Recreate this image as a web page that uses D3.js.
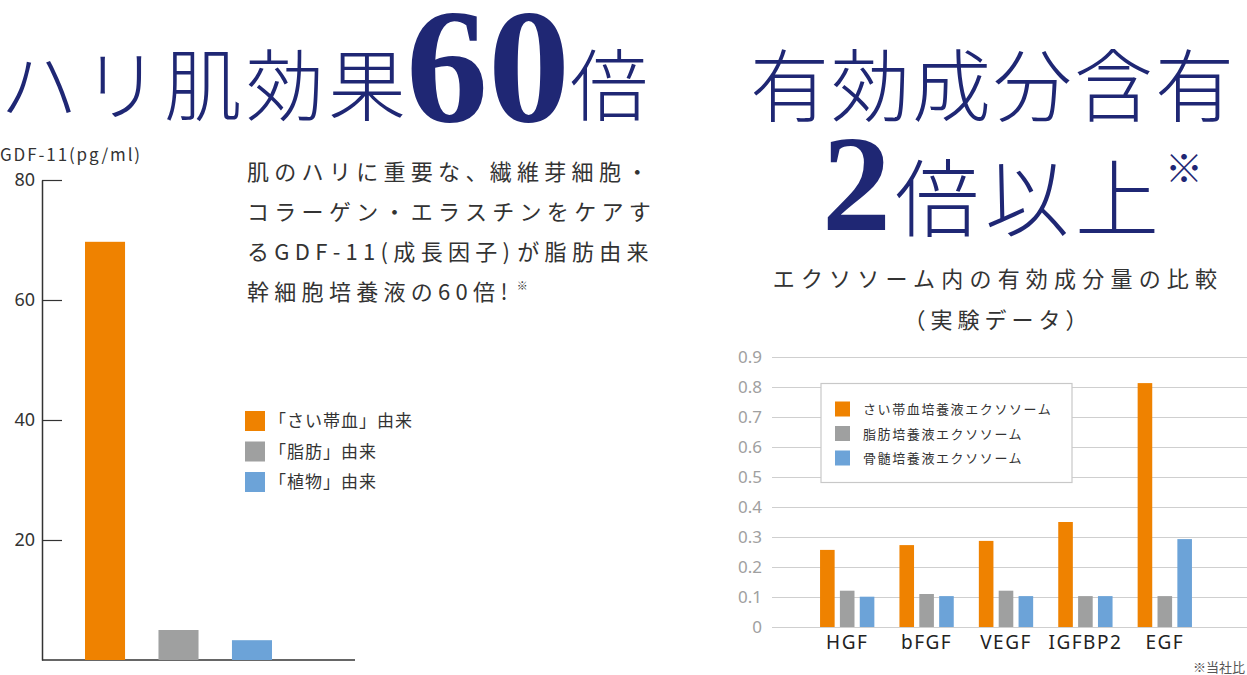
<!DOCTYPE html>
<html lang="ja">
<head>
<meta charset="utf-8">
<script src="https://cdn.jsdelivr.net/npm/d3@7"></script>
<style>
  html, body { margin: 0; padding: 0; background: #fff; }
  svg { display: block; }
  text { font-family: "Noto Sans CJK JP", "Noto Sans", sans-serif; }
</style>
</head>
<body>
<svg id="chart" width="1247" height="675" viewBox="0 0 1247 675"></svg>
<script>
// --- left chart data: GDF-11 (pg/ml) ---
const gdfSources = ["「さい帯血」由来", "「脂肪」由来", "「植物」由来"];
const gdfValues = [69.7, 5.0, 3.3];
const gdfTicks = [20, 40, 60, 80];

// --- right chart data: exosome components ---
const factors = ["HGF", "bFGF", "VEGF", "IGFBP2", "EGF"];
const exoSeries = ["さい帯血培養液エクソソーム", "脂肪培養液エクソソーム", "骨髄培養液エクソソーム"];
const cordValues = [0.257, 0.273, 0.287, 0.350, 0.813];
const adiposeValues = [0.121, 0.110, 0.121, 0.103, 0.103];
const marrowValues = [0.101, 0.103, 0.103, 0.103, 0.293];
const exoTicks = [0, 0.1, 0.2, 0.3, 0.4, 0.5, 0.6, 0.7, 0.8, 0.9];

const barColors = ["#ef8200", "#9fa0a0", "#6ca3d8"];
const navy = "#1f2774";
const ink = "#333";

const svg = d3.select("#chart");

// ---------- headings ----------
const h1 = svg.append("text").attr("x", 0).attr("y", 115).attr("fill", navy).style("font-weight", 300);
h1.append("tspan").text("ハリ肌効果").style("font-size", "78px").attr("letter-spacing", 4);
h1.append("tspan").text("60")
  .style("font-family", "'Liberation Serif', serif").style("font-weight", "bold")
  .style("font-size", "164px").attr("dx", -4).attr("dy", 6);
h1.append("tspan").text("倍").style("font-size", "78px").attr("dx", 0).attr("dy", -6);

svg.append("text").attr("x", 750).attr("y", 116).attr("fill", navy).style("font-weight", 300)
  .style("font-size", "79px").attr("letter-spacing", 2)
  .text("有効成分含有");

const h2 = svg.append("text").attr("x", 822).attr("y", 230).attr("fill", navy).style("font-weight", 300);
h2.append("tspan").text("2")
  .style("font-family", "'Liberation Serif', serif").style("font-weight", "bold")
  .style("font-size", "138px");
h2.append("tspan").text("倍以上").style("font-size", "84px").attr("dx", 4).attr("letter-spacing", 6);
h2.append("tspan").text("※").style("font-size", "38px").attr("dx", 0).attr("dy", -48);

svg.append("text").attr("x", 998).attr("y", 287).attr("text-anchor", "middle")
  .attr("fill", ink).style("font-size", "22px").attr("letter-spacing", 6.2)
  .text("エクソソーム内の有効成分量の比較");
svg.append("text").attr("x", 998).attr("y", 328).attr("text-anchor", "middle")
  .attr("fill", ink).style("font-size", "22px").attr("letter-spacing", 5)
  .text("（実験データ）");

// description block (each line is split into runs so narrow punctuation can be tucked in)
const descLines = [
  ["肌のハリに重要な、", "繊維芽細胞・"],
  ["コラーゲン・エラスチンをケアす"],
  ["るGDF-11", "(成長因子)", "が脂肪由来"],
  ["幹細胞培養液の60倍!"]
];
const descTuck = [[0, -3], [0], [0, 0, 2], [0]];
const desc = svg.append("g").attr("fill", ink);
descLines.forEach((runs, i) => {
  const t = desc.append("text").attr("x", 247).attr("y", 180 + i * 40)
    .style("font-size", "22px").attr("letter-spacing", 5.3);
  runs.forEach((r, j) => t.append("tspan").attr("dx", descTuck[i][j]).text(r));
  if (i === descLines.length - 1) {
    t.append("tspan").text("※").style("font-size", "11px").attr("dy", -10).attr("dx", 4);
  }
});

// ---------- left chart ----------
const ly = d3.scaleLinear().domain([0, 80]).range([660, 180]);
const lx = d3.scaleBand().domain(gdfSources).range([85, 272]).paddingInner(0.455);

svg.append("text").attr("x", 0).attr("y", 161).attr("fill", ink)
  .style("font-size", "17px").attr("letter-spacing", 1.9).text("GDF-11(pg/ml)");

const lAxis = svg.append("g").attr("transform", "translate(42,0)")
  .call(d3.axisLeft(ly).tickValues(gdfTicks).tickSizeInner(-20).tickSizeOuter(0).tickPadding(7));
lAxis.select(".domain").attr("stroke", ink).attr("stroke-width", 1.5);
lAxis.selectAll(".tick line").attr("stroke", ink).attr("stroke-width", 1.2);
lAxis.selectAll(".tick text").attr("fill", ink).style("font-size", "18px")
  .style("font-family", "'Noto Sans', sans-serif");

svg.append("line").attr("x1", 42).attr("x2", 355).attr("y1", ly(0)).attr("y2", ly(0))
  .attr("stroke", ink).attr("stroke-width", 1.5);

svg.append("g").selectAll("rect").data(gdfValues).join("rect")
  .attr("x", (d, i) => lx(gdfSources[i]))
  .attr("width", lx.bandwidth())
  .attr("y", d => ly(d))
  .attr("height", d => ly(0) - ly(d))
  .attr("fill", (d, i) => barColors[i]);

const lLegend = svg.append("g");
gdfSources.forEach((name, i) => {
  const g = lLegend.append("g").attr("transform", `translate(245,${411 + i * 30.5})`);
  g.append("rect").attr("width", 20).attr("height", 20).attr("fill", barColors[i]);
  g.append("text").attr("x", 24).attr("y", 16).attr("fill", ink)
    .style("font-size", "17px").attr("letter-spacing", 1).text(name);
});

// ---------- right chart ----------
const ry = d3.scaleLinear().domain([0, 0.9]).range([627, 357]);
const rx0 = d3.scaleBand().domain(factors).range([807.5, 1204.5]).paddingInner(0.316).paddingOuter(0.158);
const rx1 = d3.scaleBand().domain(exoSeries).range([0, rx0.bandwidth()]).paddingInner(0.265);
const exoValues = [cordValues, adiposeValues, marrowValues];

const rAxis = svg.append("g").attr("transform", "translate(772,0)")
  .call(d3.axisLeft(ry).tickValues(exoTicks).tickSizeInner(-(1247 - 772)).tickSizeOuter(0).tickPadding(10)
    .tickFormat(d3.format("~g")));
rAxis.select(".domain").remove();
rAxis.selectAll(".tick line").attr("stroke", "#cfcfcf").attr("stroke-width", 1.2);
rAxis.selectAll(".tick text").attr("fill", "#a0a0a0").style("font-size", "17px")
  .style("font-family", "'Noto Sans', sans-serif");

const groups = svg.append("g").selectAll("g").data(factors).join("g")
  .attr("transform", d => `translate(${rx0(d)},0)`);
groups.selectAll("rect")
  .data((f, fi) => exoSeries.map((s, si) => ({ s, si, v: exoValues[si][fi] })))
  .join("rect")
  .attr("x", d => rx1(d.s))
  .attr("width", rx1.bandwidth())
  .attr("y", d => ry(d.v))
  .attr("height", d => ry(0) - ry(d.v))
  .attr("fill", d => barColors[d.si]);

const xAxis = svg.append("g").attr("transform", `translate(0,${ry(0)})`)
  .call(d3.axisBottom(rx0).tickSize(0).tickPadding(9));
xAxis.select(".domain").remove();
xAxis.selectAll(".tick text").attr("fill", "#222").style("font-size", "19px")
  .attr("letter-spacing", 1.5).style("font-family", "'Noto Sans', sans-serif");

// legend box
const rLegend = svg.append("g").attr("transform", "translate(821,383.5)");
rLegend.append("rect").attr("width", 251).attr("height", 99)
  .attr("fill", "#fff").attr("stroke", "#c8c8c8").attr("stroke-width", 1.2);
exoSeries.forEach((name, i) => {
  const g = rLegend.append("g").attr("transform", `translate(14,${18 + i * 24.5})`);
  g.append("rect").attr("width", 15).attr("height", 15).attr("fill", barColors[i]);
  g.append("text").attr("x", 28).attr("y", 12.5).attr("fill", ink)
    .style("font-size", "13px").attr("letter-spacing", 1.6).text(name);
});

svg.append("text").attr("x", 1245).attr("y", 672).attr("text-anchor", "end")
  .attr("fill", "#555").style("font-size", "13px").text("※当社比");
</script>
</body>
</html>
